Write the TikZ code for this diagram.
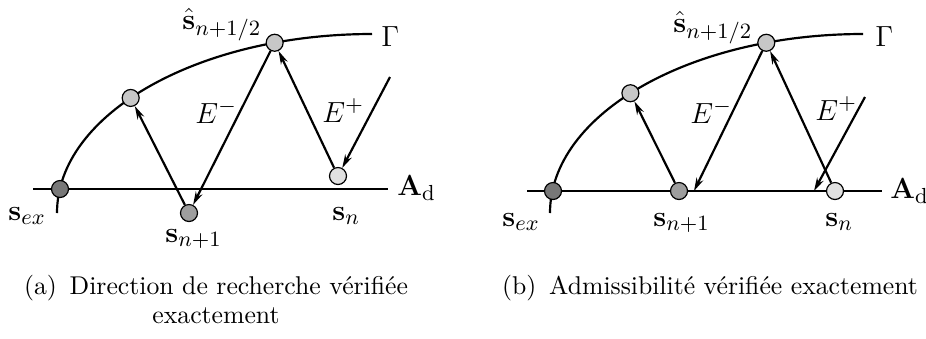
\documentclass[tikz,border=0pt]{standalone}
\usetikzlibrary{arrows.meta, calc}
\definecolor{darkpt}{gray}{0.47}
\definecolor{midpt}{gray}{0.62}
\definecolor{lightpt}{gray}{0.78}
\definecolor{palept}{gray}{0.88}

\begin{document}
\begin{tikzpicture}[
    x=0.0145cm, y=0.0145cm,
    pt/.style={draw, circle, line width=0.5pt, minimum size=7pt, inner sep=0pt},
    curve/.style={line width=0.9pt},
    arr/.style={-{Stealth[length=5.5pt, width=3pt]}, line width=0.9pt},
    lbl/.style={font=\fontsize{13}{15}\selectfont, inner sep=0pt, anchor=base west},
    subcap/.style={align=center, inner sep=0pt, anchor=north, font=\fontsize{10.6}{11.8}\selectfont}
]
    \useasboundingbox (0,0) rectangle (926,338);

    % (a) direction de recherche
    \coordinate (ca) at (372,125);
    \draw[curve] (57,125) arc[start angle=180, end angle=90, x radius=315, y radius=179];
    \draw[curve] (33,149) -- (388,149);
    \node[pt, fill=darkpt] (exa) at (60,149) {};
    \node[pt, fill=lightpt] (gpa) at ($(ca)+(140:315 and 179)$) {};
    \node[pt, fill=lightpt] (hata) at ($(ca)+(108:315 and 179)$) {};
    \node[pt, fill=midpt] (nexta) at (189,125) {};
    \node[pt, fill=palept] (cura) at (338,162) {};
    \coordinate (ina) at (390,261);

    \draw[arr] (ina) -- (cura);
    \draw[arr] (cura) -- (hata);
    \draw[arr] (hata) -- (nexta);
    \draw[arr] (nexta) -- (gpa);

    \node[lbl] at (381,292) {$\Gamma$};
    \node[lbl] at (397,143) {$\mathbf{A}_\mathrm{d}$};
    \node[lbl] at (182,309) {$\hat{\mathbf{s}}_{n+1/2}$};
    \node[lbl] at (195,215) {$E^-$};
    \node[lbl] at (322,216) {$E^+$};
    \node[lbl] at (8,118) {$\mathbf{s}_{ex}$};
    \node[lbl] at (165,96) {$\mathbf{s}_{n+1}$};
    \node[lbl] at (332,118) {$\mathbf{s}_n$};

    % (b) admissibilite
    \coordinate (cb) at (863,125);
    \draw[curve] (550,125) arc[start angle=180, end angle=90, x radius=313, y radius=179];
    \draw[curve] (527,147) -- (882,147);
    \node[pt, fill=darkpt] (exb) at (553,147) {};
    \node[pt, fill=lightpt] (gpb) at ($(cb)+(138:313 and 179)$) {};
    \node[pt, fill=lightpt] (hatb) at ($(cb)+(108:313 and 179)$) {};
    \node[pt, fill=midpt] (nextb) at (679,147) {};
    \node[pt, fill=palept] (curb) at (835,147) {};
    \coordinate (inb) at (865,241);
    \coordinate (hitb) at (814,147);
    \coordinate (backb) at (694,147);

    \draw[arr] (inb) -- (hitb);
    \draw[arr] (curb) -- (hatb);
    \draw[arr] (hatb) -- (backb);
    \draw[arr] (nextb) -- (gpb);

    \node[lbl] at (875,292) {$\Gamma$};
    \node[lbl] at (890,140) {$\mathbf{A}_\mathrm{d}$};
    \node[lbl] at (673,306) {$\hat{\mathbf{s}}_{n+1/2}$};
    \node[lbl] at (690,215) {$E^-$};
    \node[lbl] at (815,218) {$E^+$};
    \node[lbl] at (502,112) {$\mathbf{s}_{ex}$};
    \node[lbl] at (653,112) {$\mathbf{s}_{n+1}$};
    \node[lbl] at (825,112) {$\mathbf{s}_n$};

    % captions
    \node[subcap] (capa) at (216,63) {(a)\enspace Direction de recherche v\'erifi\'ee\\exactement};
    \node[subcap] (capb) at (710,63) {(b)\enspace Admissibilit\'e v\'erifi\'ee exactement};
\end{tikzpicture}
\end{document}
